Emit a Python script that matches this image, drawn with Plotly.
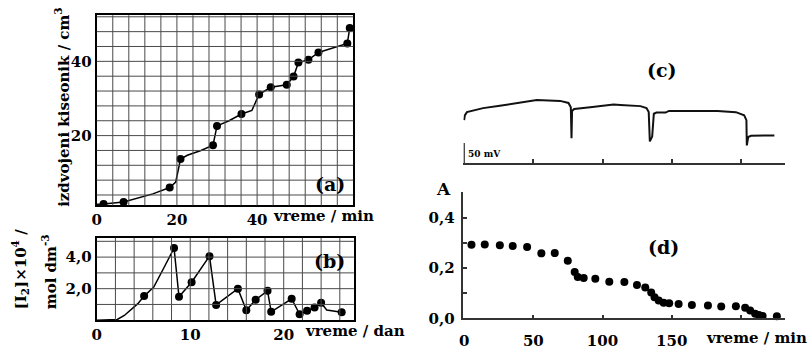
import plotly.graph_objects as go

# ---------------- data ----------------
# (a) evolved oxygen vs time (min)
a_time = [1.7, 6.7, 18.2, 20.9, 29.0, 30.0, 36.1, 40.5, 43.4, 47.4, 49.1, 50.3, 52.8, 55.3, 62.5, 63.1]
a_oxygen = [1.6, 2.1, 6.0, 13.7, 17.4, 22.6, 25.8, 31.1, 33.0, 33.7, 35.9, 39.7, 40.4, 42.4, 44.8, 49.0]
a_curve_time = [0, 1.7, 6.7, 10, 14, 18.2, 19.7, 20.9, 22.6, 26, 29.0, 30.0, 33, 36.1, 38.7, 40.5,
                43.4, 47.4, 49.1, 50.3, 52.8, 55.3, 62.5, 63.1]
a_curve_oxygen = [1.5, 1.6, 2.1, 3.0, 4.3, 6.0, 7.5, 13.7, 14.7, 16.0, 17.4, 22.6, 24.0, 25.8, 26.8, 31.1,
                  33.0, 33.7, 35.9, 39.7, 40.4, 42.4, 44.8, 49.0]
a_xtickvals = [0, 20, 40]
a_xticktext = ["0", "20", "40"]
a_ytickvals = [20, 40]
a_yticktext = ["20", "40"]

# (b) [I2] x 10^4 vs time (days)
b_time = [5.07, 8.27, 8.8, 10.15, 12.06, 12.77, 15.1, 16.0, 17.0, 18.27, 18.66, 20.85, 21.7, 22.5, 23.3, 24.0, 26.2]
b_conc = [1.53, 4.57, 1.49, 2.41, 4.06, 0.97, 2.0, 0.63, 1.3, 1.86, 0.53, 1.36, 0.38, 0.6, 0.8, 1.1, 0.51]
b_curve_time = [0, 2.2, 2.95, 3.66, 4.4, 5.07, 6.1, 7.2, 8.27, 8.8, 10.15, 12.06, 12.77, 15.1, 16.0, 17.0,
                18.27, 18.66, 20.85, 21.7, 22.5, 23.3, 24.0, 24.6, 26.2]
b_curve_conc = [0, 0.05, 0.3, 0.67, 1.05, 1.53, 2.1, 3.34, 4.57, 1.49, 2.41, 4.06, 0.97, 2.0, 0.63, 1.3,
                1.86, 0.53, 1.36, 0.38, 0.6, 0.8, 1.1, 0.65, 0.51]
b_xtickvals = [0, 10, 20]
b_xticktext = ["0", "10", "20"]
b_ytickvals = [2, 4]
b_yticktext = ["2,0", "4,0"]

# (c) potential trace (mV) vs time (min)
c_time = [0, 0.5, 2, 13.7, 25.8, 40.3, 52.5, 69.4, 75.4, 77.1, 77.6, 78.0, 79.5, 91.1, 108, 112.9,
          127.4, 131.8, 133.4, 134.2, 135.9, 137.1, 139, 145.6, 148, 183.1, 196.4, 202.4, 204,
          204.3, 205.3, 207.3, 224.2]
c_potential = [107, 119, 127, 137, 143, 151, 157, 155, 150, 139, 62, 130, 135, 139, 146, 145,
               142, 137, 127, 54, 66, 123, 126, 126, 130, 130, 127, 119, 107, 44, 65, 68, 69]
c_scalebar_time = [0, 0]
c_scalebar_mv = [0, 50]
c_xtickvals = [50, 100, 150, 200]

# (d) absorbance vs time (min)
d_time = [5.3, 14.9, 25.8, 35.1, 45.5, 55.8, 65.5, 74.9, 79.9, 82.1, 86.4, 94.8, 104.9, 115.8,
          124.9, 130.9, 135.2, 137.6, 140.6, 144.2, 148.2, 155.0, 164.6, 176.2, 185.8, 196.4,
          203.1, 206.7, 210.3, 213.0, 215.7, 226.0]
d_abs = [0.293, 0.294, 0.291, 0.288, 0.284, 0.259, 0.26, 0.23, 0.185, 0.165, 0.161, 0.158, 0.146,
         0.145, 0.133, 0.123, 0.103, 0.084, 0.071, 0.062, 0.061, 0.058, 0.054, 0.052, 0.048, 0.049,
         0.043, 0.032, 0.019, 0.014, 0.010, 0.009]
d_xtickvals = [0, 50, 100, 150]
d_xticktext = ["0", "50", "100", "150"]
d_xminorvals = [200]
d_ytickvals = [0, 0.2, 0.4]
d_yticktext = ["0,0", "0,2", "0,4"]
d_yminorvals = [0.1, 0.3]

# grid spacing of the ruled panels (a) and (b)
a_grid_x_step, a_grid_y_step = 4, 4
b_grid_x_step, b_grid_y_step = 2, 1

# ---------------- layout helpers ----------------
W, H = 809, 357
FONT = "DejaVu Serif"


def fx(p):
    return p / W


def fy(p):
    return 1 - p / H


def tfont(size=15):
    return dict(family=FONT, size=size, color="black", weight="bold")


fig = go.Figure()

# (a)
fig.add_trace(go.Scatter(x=a_curve_time, y=a_curve_oxygen, mode="lines",
                         line=dict(color="black", width=1.5), xaxis="x", yaxis="y"))
fig.add_trace(go.Scatter(x=a_time, y=a_oxygen, mode="markers",
                         marker=dict(color="black", size=8), xaxis="x", yaxis="y"))
# (b)
fig.add_trace(go.Scatter(x=b_curve_time, y=b_curve_conc, mode="lines",
                         line=dict(color="black", width=1.5), xaxis="x2", yaxis="y2"))
fig.add_trace(go.Scatter(x=b_time, y=b_conc, mode="markers",
                         marker=dict(color="black", size=8), xaxis="x2", yaxis="y2"))
# (c)
fig.add_trace(go.Scatter(x=c_time, y=c_potential, mode="lines",
                         line=dict(color="#111", width=2), xaxis="x3", yaxis="y3"))
fig.add_trace(go.Scatter(x=c_scalebar_time, y=c_scalebar_mv, mode="lines",
                         line=dict(color="#333", width=1.5), xaxis="x3", yaxis="y3"))
# (d)
fig.add_trace(go.Scatter(x=d_time, y=d_abs, mode="markers", cliponaxis=False,
                         marker=dict(color="black", size=8), xaxis="x4", yaxis="y4"))

GRIDC = "#4a4a4a"

A_XR, A_YR = [0, 64], [1.2, 52.4]
B_XR, B_YR = [0, 27.5], [0, 5.22]


def frame(**kw):
    d = dict(showgrid=False, zeroline=False,
             showline=True, linecolor="black", linewidth=2, mirror=True, ticks="",
             tickfont=tfont(15), tickmode="array")
    d.update(kw)
    return d


plain = dict(showgrid=False, zeroline=False, showline=True, linecolor="#333", linewidth=1.5,
             ticks="inside", ticklen=4, tickwidth=1.5, tickcolor="#333", tickmode="array")

# ruled grid drawn as layout shapes
shapes = []


def add_grid(xref, yref, xr, yr, xs, ys):
    v = xs
    while v < xr[1]:
        if v > xr[0]:
            shapes.append(dict(type="line", xref=xref, yref=yref + " domain", x0=v, x1=v, y0=0, y1=1,
                               line=dict(color=GRIDC, width=1), layer="above"))
        v += xs
    v = 0
    while v < yr[1]:
        if v > yr[0]:
            shapes.append(dict(type="line", xref=xref + " domain", yref=yref, x0=0, x1=1, y0=v, y1=v,
                               line=dict(color=GRIDC, width=1), layer="above"))
        v += ys


add_grid("x", "y", A_XR, A_YR, a_grid_x_step, a_grid_y_step)
add_grid("x2", "y2", B_XR, B_YR, b_grid_x_step, b_grid_y_step)

fig.update_layout(
    width=W, height=H, margin=dict(l=0, r=0, t=0, b=0, pad=0),
    paper_bgcolor="white", plot_bgcolor="white", showlegend=False,
    xaxis=frame(domain=[fx(92.3), fx(350.5)], range=A_XR, anchor="y",
                tickvals=a_xtickvals, ticktext=a_xticktext),
    yaxis=frame(domain=[fy(210.7), fy(15.7)], range=A_YR, anchor="x",
                tickvals=a_ytickvals, ticktext=a_yticktext),
    xaxis2=frame(domain=[fx(92.3), fx(351)], range=B_XR, anchor="y2",
                 tickvals=b_xtickvals, ticktext=b_xticktext),
    yaxis2=frame(domain=[fy(328.5), fy(244)], range=B_YR, anchor="x2",
                 tickvals=b_ytickvals, ticktext=b_yticktext),
    xaxis3=dict(domain=[fx(461.3), fx(785)], range=[-0.5, 232], anchor="y3",
                tickvals=c_xtickvals, showticklabels=False, **plain),
    yaxis3=dict(domain=[fy(167.3), fy(86)], range=[0, (167.3 - 86) * 2.43], anchor="x3",
                visible=False),
    xaxis4=dict(domain=[fx(461.3), fx(785)], range=[-0.5, 232], anchor="y4",
                tickvals=d_xtickvals, ticktext=d_xticktext,
                minor=dict(tickmode="array", tickvals=d_xminorvals, ticks="inside",
                           ticklen=4, tickwidth=1.5, tickcolor="#333"),
                tickfont=tfont(15), ticklabelstandoff=8, **plain),
    yaxis4=dict(domain=[fy(326.7), fy(196.7)], range=[0, 0.504], anchor="x4",
                tickvals=d_ytickvals, ticktext=d_yticktext,
                minor=dict(tickmode="array", tickvals=d_yminorvals, ticks="inside",
                           ticklen=4, tickwidth=1.5, tickcolor="#333"),
                tickfont=tfont(15), ticklabelstandoff=4, **plain),
    shapes=shapes,
)

ann = [
    dict(text="izdvojeni kiseonik / cm<sup>3</sup>", x=fx(58), y=fy(110), textangle=-90,
         xanchor="center", yanchor="middle", font=tfont(15)),
    dict(text="[I<sub>2</sub>]×10<sup>4</sup> /", x=fx(15), y=fy(319), textangle=-90,
         xanchor="center", yanchor="bottom", font=tfont(15)),
    dict(text="mol dm<sup>-3</sup>", x=fx(45), y=fy(319), textangle=-90,
         xanchor="center", yanchor="bottom", font=tfont(15)),
    dict(text="vreme / min", x=fx(268), y=fy(222), xanchor="left", yanchor="middle", font=tfont(15)),
    dict(text="vreme / dan", x=fx(300), y=fy(340), xanchor="left", yanchor="middle", font=tfont(15)),
    dict(text="vreme / min", x=fx(703), y=fy(347), xanchor="left", yanchor="middle", font=tfont(15)),
    dict(text="(a)", x=fx(326.7), y=fy(189), xanchor="center", yanchor="middle", font=tfont(19)),
    dict(text="(b)", x=fx(326.7), y=fy(268), xanchor="center", yanchor="middle", font=tfont(19)),
    dict(text="(c)", x=fx(661), y=fy(71.5), xanchor="center", yanchor="middle", font=tfont(19)),
    dict(text="(d)", x=fx(663), y=fy(253), xanchor="center", yanchor="middle", font=tfont(19)),
    dict(text="A", x=fx(441.7), y=fy(194), xanchor="center", yanchor="middle", font=tfont(17)),
    dict(text="50 mV", x=fx(464), y=fy(158), xanchor="left", yanchor="middle", font=tfont(9)),
]
for a in ann:
    a.update(xref="paper", yref="paper", showarrow=False)
fig.update_layout(annotations=ann)

fig.write_html("out.html")
